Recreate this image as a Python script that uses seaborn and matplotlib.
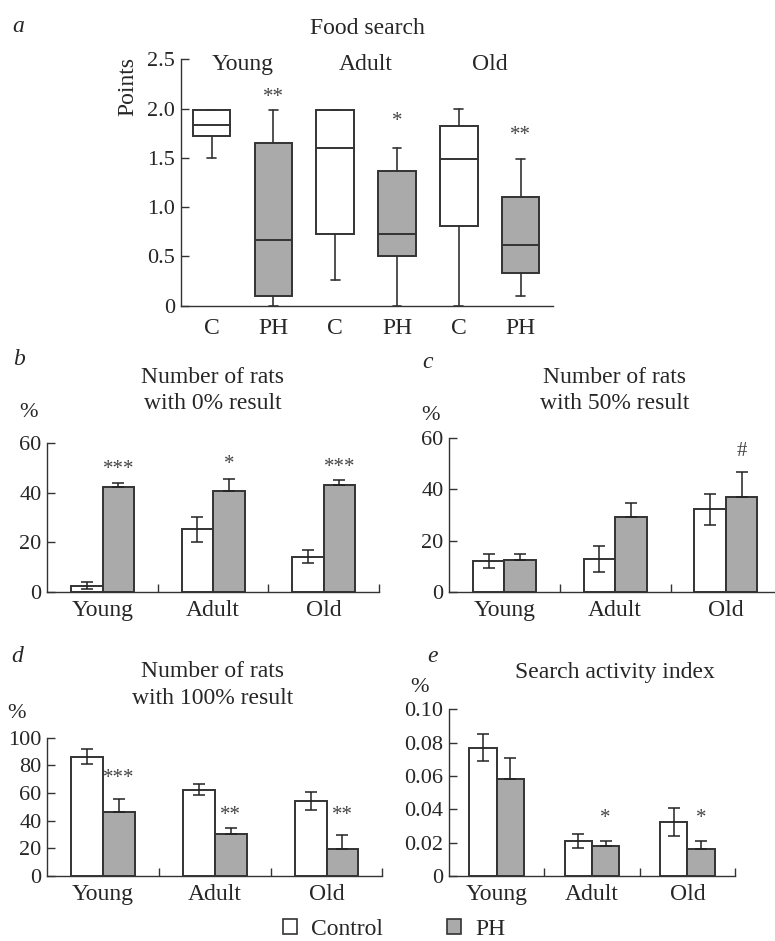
import numpy as np
import pandas as pd
import seaborn as sns
import matplotlib.pyplot as plt
from matplotlib.patches import Patch
from matplotlib.transforms import offset_copy

# data
ages = ['Young', 'Adult', 'Old']
groups = ['Control', 'PH']
group_short = ['C', 'PH']

# a - food search box plots, order: Young C, Young PH, Adult C, Adult PH, Old C, Old PH
box_med = [1.83, 0.67, 1.60, 0.73, 1.49, 0.62]
box_q1 = [1.72, 0.10, 0.73, 0.50, 0.81, 0.33]
box_q3 = [1.99, 1.65, 1.99, 1.37, 1.82, 1.10]
box_lo = [1.50, 0.00, 0.26, 0.00, 0.00, 0.10]
box_hi = [1.99, 1.99, 1.99, 1.60, 2.00, 1.49]
box_sig = ['', '**', '', '*', '', '**']
box_sig_y = [0, 2.17, 0, 1.93, 0, 1.79]

# b - number of rats with 0% result
b_ctrl = [2.5, 25.3, 14.2]
b_ctrl_err = [1.4, 5.1, 2.6]
b_ph = [42.5, 40.7, 43.0]
b_ph_err = [1.6, 5.0, 2.3]
b_sig = ['***', '*', '***']
b_sig_y = [51.6, 53.9, 52.6]

# c - number of rats with 50% result
c_ctrl = [11.9, 12.9, 32.2]
c_ctrl_err = [2.7, 5.0, 6.1]
c_ph = [12.4, 29.3, 37.0]
c_ph_err = [2.3, 5.4, 9.7]
c_sig = ['', '', '#']
c_sig_y = [0, 0, 55.7]

# d - number of rats with 100% result
d_ctrl = [86.3, 62.4, 54.0]
d_ctrl_err = [5.2, 4.1, 6.5]
d_ph = [46.0, 30.4, 19.8]
d_ph_err = [9.9, 4.3, 9.6]
d_sig = ['***', '**', '**']
d_sig_y = [75.0, 48.2, 48.2]

# e - search activity index
e_ctrl = [0.077, 0.0208, 0.0324]
e_ctrl_err = [0.008, 0.0042, 0.0083]
e_ph = [0.058, 0.018, 0.0164]
e_ph_err = [0.0126, 0.0028, 0.0044]
e_sig = ['', '*', '*']
e_sig_y = [0, 0.0382, 0.0382]

W, H = 775, 941
GREY = '#aaaaaa'
LINE = '#333333'
SIG_FS = 15

sns.set_style('ticks')
plt.rcParams['font.family'] = ['Liberation Serif', 'DejaVu Serif']
plt.rcParams['axes.linewidth'] = 1.0
plt.rcParams['axes.edgecolor'] = LINE

fig = plt.figure(figsize=(W / 100, H / 100), dpi=100)


def px_axes(left, right, top, bottom):
    return fig.add_axes([left / W, 1 - bottom / H, (right - left) / W, (bottom - top) / H])


def ftext(x, y, s, **kw):
    fig.text(x / W, 1 - y / H, s, va='baseline', **kw)


def sig_text(ax, x, y, s):
    # y is the centre of the asterisk glyph, which sits about half an em above baseline
    if s == '#':
        trans = offset_copy(ax.transData, fig=fig, y=-0.33 * SIG_FS, units='points')
    else:
        trans = offset_copy(ax.transData, fig=fig, y=-0.5 * SIG_FS, units='points')
    ax.text(x, y, s, ha='center', va='baseline', fontsize=SIG_FS, color='#444444',
            transform=trans)


def style_ax(ax, ymax, yticks, ylabels):
    sns.despine(ax=ax)
    ax.set_ylim(0, ymax)
    ax.set_yticks(yticks)
    ax.set_yticklabels(ylabels)
    ax.tick_params(axis='y', direction='in', length=6, width=1, color=LINE, labelsize=16, pad=4)
    ax.set_xlabel('')
    ax.set_ylabel('')


# ---- panel a ----
ax = px_axes(180.7, 553.3, 59.3, 305.7)
stats = []
for i in range(6):
    stats.append(dict(med=box_med[i], q1=box_q1[i], q3=box_q3[i],
                      whislo=box_lo[i], whishi=box_hi[i], fliers=[]))
bp = ax.bxp(stats, positions=range(6), widths=0.61, capwidths=0.14, patch_artist=True,
            boxprops=dict(edgecolor=LINE, linewidth=1.4),
            medianprops=dict(color=LINE, linewidth=1.4),
            whiskerprops=dict(color=LINE, linewidth=1.2),
            capprops=dict(color=LINE, linewidth=1.2))
for i, box in enumerate(bp['boxes']):
    box.set_facecolor('white' if i % 2 == 0 else GREY)
style_ax(ax, 2.5, [0, 0.5, 1.0, 1.5, 2.0, 2.5], ['0', '0.5', '1.0', '1.5', '2.0', '2.5'])
ax.set_xlim(-0.5, 5.53)
ax.set_xticks(range(6))
ax.set_xticklabels(group_short * 3)
ax.tick_params(axis='x', length=0, labelsize=17, pad=9)
for i, s in enumerate(box_sig):
    if s:
        sig_text(ax, i, box_sig_y[i], s)
for k, a in enumerate(ages):
    ax.text(2 * k + 0.5, 2.39, a, ha='center', va='baseline', fontsize=17)
ftext(18, 31.7, 'a', fontsize=17, style='italic', ha='center')
ftext(367, 34, 'Food search', fontsize=17, ha='center')
fig.text(128 / W, 1 - 87 / H, 'Points', rotation=90, ha='center', va='center', fontsize=17)


# ---- bar panels ----
def bar_panel(ax, ctrl, ctrl_err, ph, ph_err, sig, sig_y, ymax, yticks, ylabels):
    df = pd.DataFrame({
        'age': ages * 2,
        'group': [groups[0]] * 3 + [groups[1]] * 3,
        'value': list(ctrl) + list(ph),
    })
    sns.barplot(data=df, x='age', y='value', hue='group', order=ages, hue_order=groups,
                palette={groups[0]: 'white', groups[1]: GREY}, saturation=1,
                width=0.57, gap=0, edgecolor=LINE, linewidth=1.4,
                errorbar=None, legend=False, ax=ax)
    bars = ax.patches
    xc = [b.get_x() + b.get_width() / 2 for b in bars[:3]]
    xp = [b.get_x() + b.get_width() / 2 for b in bars[3:6]]
    ax.errorbar(xc, ctrl, yerr=ctrl_err, fmt='none', ecolor='#222222',
                elinewidth=1.1, capsize=4, capthick=1.1, zorder=4)
    ax.errorbar(xp, ph, yerr=[np.zeros(3), ph_err], fmt='none', ecolor='#222222',
                elinewidth=1.1, capsize=4, capthick=1.1, zorder=4)
    for i, s in enumerate(sig):
        if s:
            sig_text(ax, xp[i], sig_y[i], s)
    style_ax(ax, ymax, yticks, ylabels)
    ax.set_xlim(-0.5, 2.5)
    ax.set_xticks(range(3))
    ax.set_xticklabels(ages)
    ax.tick_params(axis='x', which='major', length=0, labelsize=17, pad=6)
    ax.set_xticks([0.5, 1.5, 2.5], minor=True)
    ax.tick_params(axis='x', which='minor', direction='in', length=6, width=1, color=LINE)


ax_b = px_axes(47.3, 379, 443.3, 591.7)
bar_panel(ax_b, b_ctrl, b_ctrl_err, b_ph, b_ph_err, b_sig, b_sig_y,
          60, [0, 20, 40, 60], ['0', '20', '40', '60'])
ftext(19, 365, 'b', fontsize=17, style='italic', ha='center')
ftext(212.5, 383.3, 'Number of rats', fontsize=17, ha='center')
ftext(212.5, 409.3, 'with 0% result', fontsize=17, ha='center')
ftext(28, 416.7, '%', fontsize=16, ha='center')

ax_c = px_axes(449, 781.3, 438.3, 591.7)
bar_panel(ax_c, c_ctrl, c_ctrl_err, c_ph, c_ph_err, c_sig, c_sig_y,
          60, [0, 20, 40, 60], ['0', '20', '40', '60'])
ftext(428, 368.3, 'c', fontsize=17, style='italic', ha='center')
ftext(614.2, 383.3, 'Number of rats', fontsize=17, ha='center')
ftext(614.2, 409.3, 'with 50% result', fontsize=17, ha='center')
ftext(430, 420, '%', fontsize=16, ha='center')

ax_d = px_axes(47.3, 382.4, 737.7, 876)
bar_panel(ax_d, d_ctrl, d_ctrl_err, d_ph, d_ph_err, d_sig, d_sig_y,
          100, [0, 20, 40, 60, 80, 100], ['0', '20', '40', '60', '80', '100'])
ftext(17, 661.7, 'd', fontsize=17, style='italic', ha='center')
ftext(212.7, 676.7, 'Number of rats', fontsize=17, ha='center')
ftext(212.7, 704, 'with 100% result', fontsize=17, ha='center')
ftext(17, 718.3, '%', fontsize=16, ha='center')

ax_e = px_axes(449, 735, 709.3, 876)
bar_panel(ax_e, e_ctrl, e_ctrl_err, e_ph, e_ph_err, e_sig, e_sig_y,
          0.1, [0, 0.02, 0.04, 0.06, 0.08, 0.10], ['0', '0.02', '0.04', '0.06', '0.08', '0.10'])
ftext(433, 661.7, 'e', fontsize=17, style='italic', ha='center')
ftext(615.2, 678.3, 'Search activity index', fontsize=17, ha='center')
ftext(419.7, 691.7, '%', fontsize=16, ha='center')

# legend
handles = [Patch(facecolor='white', edgecolor=LINE, linewidth=1.2),
           Patch(facecolor=GREY, edgecolor=LINE, linewidth=1.2)]
fig.legend(handles, groups, loc='center left', bbox_to_anchor=(282.7 / W, 1 - 929.7 / H),
           ncol=2, frameon=False, fontsize=17, handlelength=0.6, handleheight=0.6,
           handletextpad=0.6, columnspacing=2.7, borderpad=0, borderaxespad=0)

fig.savefig('out.png', dpi=100)
